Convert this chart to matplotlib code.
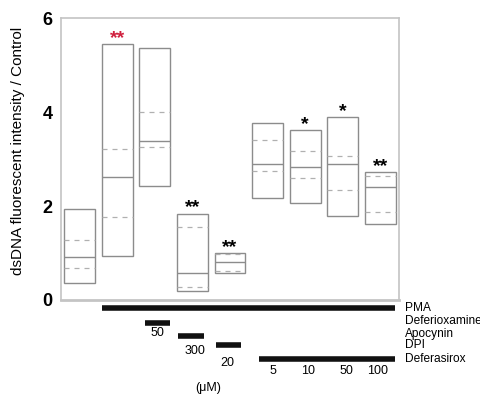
import numpy as np
import matplotlib
matplotlib.use("Agg")
import matplotlib.pyplot as plt
from matplotlib.transforms import blended_transform_factory

plt.rcParams["font.family"] = ["Liberation Sans", "DejaVu Sans"]

# Données (boîtes : min, quartiles, médiane, max)
pos = np.arange(1, 10)
box_top = [1.94, 5.44, 5.37, 1.84, 0.99, 3.76, 3.61, 3.89, 2.72]
box_bot = [0.37, 0.93, 2.43, 0.19, 0.58, 2.18, 2.06, 1.78, 1.62]
median = [0.91, 2.62, 3.38, 0.57, 0.80, 2.89, 2.84, 2.89, 2.40]
q_high = [1.28, 3.22, 4.00, 1.55, 0.97, 3.40, 3.16, 3.06, 2.64]
q_low = [0.68, 1.77, 3.26, 0.27, 0.61, 2.74, 2.59, 2.33, 1.87]
signif = ["", "**", "", "**", "**", "", "*", "*", "**"]
signif_color = ["k", "#d0213f", "k", "k", "k", "k", "k", "k", "k"]

# Traitements (début, fin en position de boîte) et concentrations
treat_names = ["PMA", "Deferioxamine", "Apocynin", "DPI", "Deferasirox"]
treat_start = [1.6, 2.73, 3.62, 4.62, 5.77]
treat_end = [9.4, 3.40, 4.30, 5.28, 9.4]
conc_labels = ["50", "300", "20", "5", "10", "50", "100"]
conc_pos = [3.08, 4.07, 4.92, 6.14, 7.07, 8.11, 8.94]

W, H = 481, 398
fig = plt.figure(figsize=(W / 100, H / 100), dpi=100)
ax = fig.add_axes([61 / W, 1 - 300 / H, 338 / W, 282 / H])

width = 0.82
heights = np.array(box_top) - np.array(box_bot)
ax.bar(pos, heights, bottom=box_bot, width=width, fill=False,
       edgecolor="#8c8c8c", linewidth=1.0)
ax.hlines(median, pos - width / 2, pos + width / 2, color="#8c8c8c", linewidth=1.0)
ax.hlines(q_high, pos - width / 2, pos + width / 2, color="#b0b0b0",
          linewidth=0.9, linestyles=(0, (4, 4)))
ax.hlines(q_low, pos - width / 2, pos + width / 2, color="#b0b0b0",
          linewidth=0.9, linestyles=(0, (4, 4)))

for x, top, s, c in zip(pos, box_top, signif, signif_color):
    if s:
        ax.annotate(s, (x, top), xytext=(0, 5.5), textcoords="offset points",
                    ha="center", va="center_baseline", fontsize=14,
                    fontweight="bold", color=c)

ax.set_xlim(0.5, 9.5)
ax.set_ylim(0, 6)
ax.set_xticks([])
ax.set_yticks([0, 2, 4, 6])
ax.tick_params(axis="y", length=0, pad=6, labelsize=13)
for lab in ax.get_yticklabels():
    lab.set_fontweight("bold")
for sp in ax.spines.values():
    sp.set_color("#c4c4c4")
    sp.set_linewidth(1.2)
ax.spines["bottom"].set_linewidth(2)
ax.set_ylabel("dsDNA fluorescent intensity / Control", fontsize=11)
ax.yaxis.set_label_coords(-0.107, 0.53)

# Barres de traitement sous le graphique
tr = blended_transform_factory(ax.transData, fig.transFigure)
bar_y = [307.7, 322.7, 336, 345.3, 359]
label_y = [307.7, 321.5, 334, 345.5, 359]
for name, x0, x1, by, ly in zip(treat_names, treat_start, treat_end, bar_y, label_y):
    fig.add_artist(plt.Line2D([x0, x1], [1 - by / H] * 2, transform=tr,
                              color="#111111", linewidth=4, solid_capstyle="butt"))
    fig.text(405 / W, 1 - ly / H, name, ha="left", va="center", fontsize=8.6)

conc_y = [333.5, 351.5, 363.5, 371.5, 371.5, 371.5, 371.5]
for lab, x, y in zip(conc_labels, conc_pos, conc_y):
    fig.text(x, 1 - y / H, lab, transform=tr, ha="center", va="center", fontsize=9)
fig.text(4.41, 1 - 388 / H, "(\u03bcM)", transform=tr, ha="center", va="center",
         fontsize=9)

fig.savefig("out.png", dpi=100)
